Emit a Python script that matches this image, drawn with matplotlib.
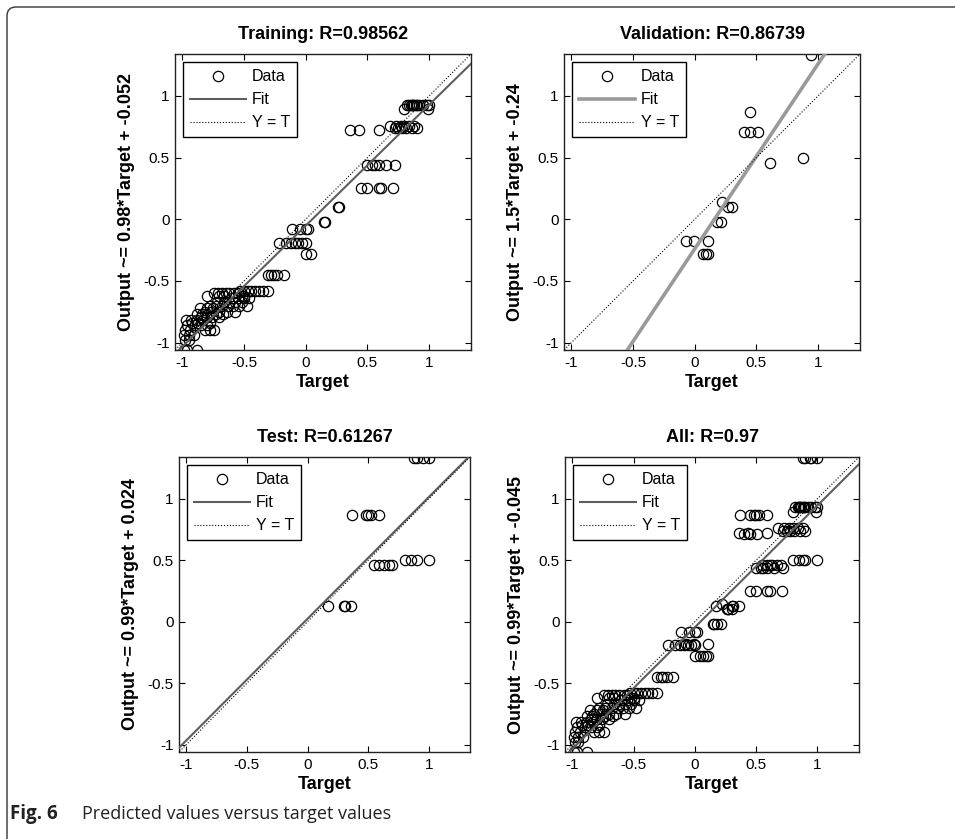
import numpy as np
import matplotlib.pyplot as plt
from matplotlib.path import Path
from matplotlib.patches import PathPatch

plt.rcParams['font.family'] = ['Liberation Sans', 'DejaVu Sans']

# ---- data (target, network output) ----
train_target = [
    0.82, 0.84, 0.85, 0.86, 0.87, 0.88, 0.89, 0.90, 0.92, 0.95, 0.98, 1.00,
    0.80, 0.99,
    0.68, 0.73, 0.77, 0.80, 0.84, 0.88,
    0.72, 0.75, 0.78, 0.81, 0.86, 0.90,
    0.36, 0.43, 0.59,
    0.50, 0.54, 0.56, 0.59, 0.65, 0.72,
    0.45, 0.50, 0.59, 0.61, 0.71,
    0.26, 0.27,
    0.15, 0.155,
    -0.11, -0.05, 0.00, 0.02,
    -0.22, -0.16, -0.12, -0.09, -0.06, -0.03, 0.00,
    0.00, 0.04,
    -0.31, -0.28, -0.26, -0.23, -0.18,
    -0.53, -0.50, -0.47, -0.44, -0.41, -0.38, -0.35, -0.31,
    -0.74, -0.71, -0.68, -0.65, -0.62, -0.58, -0.55,
    -0.80, -0.70, -0.66, -0.52, -0.50,
    -0.60, -0.55, -0.50, -0.46,
    -0.72, -0.66, -0.62, -0.57, -0.52,
    -0.78, -0.73, -0.68, -0.63, -0.59, -0.54, -0.48,
    -0.86, -0.80, -0.75,
    -0.82, -0.77, -0.70, -0.64, -0.57,
    -0.88, -0.84, -0.73, -0.67,
    -0.85, -0.80, -0.76, -0.70,
    -0.97, -0.93, -0.88, -0.83,
    -0.92, -0.87, -0.78,
    -0.96, -0.90, -0.85, -0.80,
    -0.98, -0.94, -0.82, -0.78, -0.74,
    -0.99, -0.95, -0.91,
    -0.98, -0.95,
    -0.99, -0.96, -0.88,
]
train_output = [
    0.93, 0.93, 0.93, 0.93, 0.93, 0.93, 0.93, 0.93, 0.93, 0.93, 0.93, 0.93,
    0.89, 0.89,
    0.76, 0.76, 0.76, 0.76, 0.76, 0.76,
    0.74, 0.74, 0.74, 0.74, 0.74, 0.74,
    0.72, 0.72, 0.72,
    0.44, 0.44, 0.44, 0.44, 0.44, 0.44,
    0.25, 0.25, 0.25, 0.25, 0.25,
    0.10, 0.10,
    -0.02, -0.02,
    -0.08, -0.08, -0.08, -0.08,
    -0.19, -0.19, -0.19, -0.19, -0.19, -0.19, -0.19,
    -0.28, -0.28,
    -0.45, -0.45, -0.45, -0.45, -0.45,
    -0.58, -0.58, -0.58, -0.58, -0.58, -0.58, -0.58, -0.58,
    -0.60, -0.60, -0.60, -0.60, -0.60, -0.60, -0.60,
    -0.62, -0.62, -0.62, -0.62, -0.62,
    -0.64, -0.64, -0.64, -0.64,
    -0.67, -0.67, -0.67, -0.67, -0.67,
    -0.70, -0.70, -0.70, -0.70, -0.70, -0.70, -0.70,
    -0.72, -0.72, -0.72,
    -0.75, -0.75, -0.75, -0.75, -0.75,
    -0.77, -0.77, -0.77, -0.77,
    -0.79, -0.79, -0.79, -0.79,
    -0.82, -0.82, -0.82, -0.82,
    -0.84, -0.84, -0.84,
    -0.86, -0.86, -0.86, -0.86,
    -0.90, -0.90, -0.90, -0.90, -0.90,
    -0.94, -0.94, -0.94,
    -0.98, -0.98,
    -1.06, -1.06, -1.06,
]

val_target = [0.94, 0.45, 0.40, 0.45, 0.51, 0.61, 0.88, 0.22, 0.27, 0.30,
              0.18, 0.21, -0.07, -0.01, 0.11, 0.07, 0.09, 0.11]
val_output = [1.335, 0.87, 0.71, 0.71, 0.71, 0.46, 0.50, 0.14, 0.10, 0.10,
              -0.02, -0.02, -0.18, -0.18, -0.18, -0.28, -0.28, -0.28]

test_target = [0.88, 0.90, 0.95, 1.00,
               0.37, 0.48, 0.50, 0.52, 0.59,
               0.55, 0.59, 0.63, 0.67, 0.70,
               0.80, 0.85, 0.90, 1.00,
               0.17, 0.30, 0.31, 0.36]
test_output = [1.335, 1.335, 1.335, 1.335,
               0.87, 0.87, 0.87, 0.87, 0.87,
               0.46, 0.46, 0.46, 0.46, 0.46,
               0.50, 0.50, 0.50, 0.50,
               0.13, 0.13, 0.13, 0.13]

all_target = train_target + val_target + test_target
all_output = train_output + val_output + test_output

titles = ['Training: R=0.98562', 'Validation: R=0.86739',
          'Test: R=0.61267', 'All: R=0.97']
ylabels = ['Output ~= 0.98*Target + -0.052', 'Output ~= 1.5*Target + -0.24',
           'Output ~= 0.99*Target + 0.024', 'Output ~= 0.99*Target + -0.045']
fit_slope = [0.98, 1.5, 0.99, 0.99]
fit_intercept = [-0.052, -0.24, 0.024, -0.045]

ticks = [-1, -0.5, 0, 0.5, 1]
tick_labels = ['-1', '-0.5', '0', '0.5', '1']
lim = [-1.06, 1.34]

# ---- layout (pixels of a 955x839 image) ----
W, H = 955, 839
boxes = [(175, 54, 296, 296), (564, 54, 296, 296),
         (179, 457, 291, 295), (565, 457, 294, 295)]
fit_colors = ['#5e5e5e', '#9a9a9a', '#5e5e5e', '#5e5e5e']
fit_widths = [1.5, 2.6, 1.5, 1.5]

fig = plt.figure(figsize=(W / 100, H / 100), dpi=100)

datasets = [(train_target, train_output), (val_target, val_output),
            (test_target, test_output), (all_target, all_output)]

for i, (t, y) in enumerate(datasets):
    l, tp, w, h = boxes[i]
    ax = fig.add_axes([l / W, 1 - (tp + h) / H, w / W, h / H])
    ax.plot(t, y, 'o', mfc='none', mec='black', ms=7.4, mew=0.9,
            label='Data', zorder=2)
    # lines run a little past the limits, the axes clip them
    xs = np.array([lim[0] - 0.2, lim[1] + 0.2])
    ax.plot(xs, fit_slope[i] * xs + fit_intercept[i], '-',
            color=fit_colors[i], lw=fit_widths[i], label='Fit', zorder=3)
    ax.plot(xs, xs, ':', color='black', lw=0.8, label='Y = T', zorder=4)

    ax.set_xlim(lim)
    ax.set_ylim(lim)
    ax.set_xticks(ticks)
    ax.set_yticks(ticks)
    ax.set_xticklabels(tick_labels)
    ax.set_yticklabels(tick_labels)
    ax.tick_params(direction='in', length=4, width=0.8, top=True, right=True,
                   labelsize=11, pad=4)
    for sp in ax.spines.values():
        sp.set_linewidth(1.0)
        sp.set_color('#222222')

    ax.set_title(titles[i], fontsize=13, fontweight='bold', pad=10.5)
    ax.set_xlabel('Target', fontsize=13, fontweight='bold', labelpad=3)
    ax.set_ylabel(ylabels[i], fontsize=13, fontweight='bold', labelpad=6)

    leg = ax.legend(loc='upper left', fontsize=11.5, handlelength=3.5,
                    handletextpad=0.35, borderpad=0.45, labelspacing=0.5,
                    fancybox=False, framealpha=1, edgecolor='black')
    leg.get_frame().set_linewidth(1.0)

# caption
fig.text(10 / W, 1 - 819 / H, 'Fig. 6', fontsize=13.5, fontweight='bold',
         family=['Open Sans', 'DejaVu Sans'], color='#222222', va='baseline')
fig.text(82 / W, 1 - 819 / H, 'Predicted values versus target values',
         fontsize=13, family=['Open Sans', 'DejaVu Sans'], color='#222222',
         va='baseline')

# page frame (top and left edges with a rounded corner)
r = 0.09
x0, y0 = 0.07, (H - 7) / 100
verts = [(x0, 0.0), (x0, y0 - r), (x0, y0), (x0 + r, y0), (W / 100, y0)]
codes = [Path.MOVETO, Path.LINETO, Path.CURVE3, Path.CURVE3, Path.LINETO]
frame = PathPatch(Path(verts, codes), fill=False, edgecolor='#333333',
                  lw=1.0, transform=fig.dpi_scale_trans)
fig.add_artist(frame)

fig.savefig('out.png', dpi=100)
